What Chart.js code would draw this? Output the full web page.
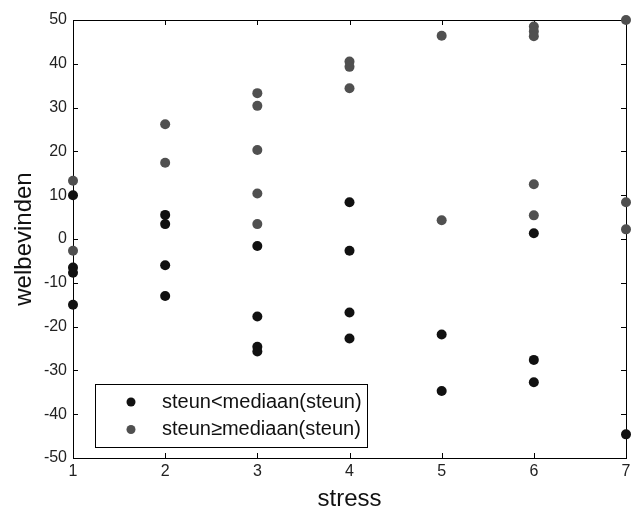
<!DOCTYPE html>
<html>
<head>
<meta charset="utf-8">
<script src="https://cdn.jsdelivr.net/npm/chart.js@4/dist/chart.umd.min.js"></script>
<style>
  body { margin: 0; background: #fff; }
  #wrap { width: 631px; height: 511px; }
</style>
</head>
<body>
<div id="wrap"><canvas id="scatter" width="631" height="511"></canvas></div>
<script>
// Data: stress (x) and welbevinden (y) per group
const lowStress = [1, 1, 1, 1, 2, 2, 2, 2, 3, 3, 3, 3, 4, 4, 4, 4, 5, 5, 6, 6, 6, 7];
const lowWel = [10, -6.5, -7.7, -15, 5.5, 3.4, -6, -13, -1.6, -17.7, -24.6, -25.7, 8.4, -2.7, -16.8, -22.7, -21.8, -34.7, 1.3, -27.6, -32.7, -44.6];
const highStress = [1, 1, 2, 2, 3, 3, 3, 3, 3, 4, 4, 4, 5, 5, 6, 6, 6, 6, 6, 7, 7, 7];
const highWel = [13.3, -2.7, 26.2, 17.4, 33.3, 30.4, 20.3, 10.4, 3.4, 40.5, 39.3, 34.4, 46.4, 4.3, 48.5, 47.4, 46.3, 12.5, 5.4, 50, 8.4, 2.2];

const xTicks = [1, 2, 3, 4, 5, 6, 7];
const yTicks = [-50, -40, -30, -20, -10, 0, 10, 20, 30, 40, 50];

const labelLow = "steun<mediaan(steun)";
const labelHigh = "steun\u2265mediaan(steun)";
const colorLow = "#111111";
const colorHigh = "#505050";

const FONT = "'Liberation Sans', Arial, sans-serif";

function toPoints(xs, ys) {
  return xs.map((x, i) => ({ x: x, y: ys[i] }));
}

// MATLAB style box with inward tick marks
const frameTicks = {
  id: "frameTicks",
  beforeDatasetsDraw(chart) {
    const { ctx, chartArea: a, scales } = chart;
    ctx.save();
    ctx.strokeStyle = "#000";
    ctx.lineWidth = 1;
    ctx.strokeRect(Math.round(a.left) + 0.5, Math.round(a.top) + 0.5, Math.round(a.right - a.left), Math.round(a.bottom - a.top));
    ctx.beginPath();
    const len = 5;
    xTicks.forEach((v) => {
      const px = Math.round(scales.x.getPixelForValue(v)) + 0.5;
      ctx.moveTo(px, a.bottom); ctx.lineTo(px, a.bottom - len);
      ctx.moveTo(px, a.top); ctx.lineTo(px, a.top + len);
    });
    yTicks.forEach((v) => {
      const py = Math.round(scales.y.getPixelForValue(v)) + 0.5;
      ctx.moveTo(a.left, py); ctx.lineTo(a.left + len, py);
      ctx.moveTo(a.right, py); ctx.lineTo(a.right - len, py);
    });
    ctx.stroke();
    ctx.restore();
  }
};

// legend box in the lower left corner of the plot
const legendBox = {
  id: "legendBox",
  afterDatasetsDraw(chart) {
    const { ctx, chartArea: a } = chart;
    const x = Math.round(a.left) + 22;
    const y = Math.round(a.bottom) - 74;
    const w = 272, h = 63;
    ctx.save();
    ctx.fillStyle = "#fff";
    ctx.fillRect(x, y, w, h);
    ctx.strokeStyle = "#000";
    ctx.lineWidth = 1;
    ctx.strokeRect(x + 0.5, y + 0.5, w, h);
    ctx.font = "20px " + FONT;
    ctx.textBaseline = "middle";
    chart.data.datasets.forEach((ds, i) => {
      const ry = y + 18 + i * 27.5;
      ctx.fillStyle = ds.backgroundColor;
      ctx.beginPath();
      ctx.arc(x + 36, ry, 4.5, 0, Math.PI * 2);
      ctx.fill();
      ctx.fillStyle = "#111";
      ctx.fillText(ds.label, x + 67, ry);
    });
    ctx.restore();
  }
};

new Chart(document.getElementById("scatter"), {
  type: "scatter",
  data: {
    datasets: [
      {
        label: labelLow,
        data: toPoints(lowStress, lowWel),
        backgroundColor: colorLow,
        pointRadius: 5,
        pointBorderWidth: 0,
        clip: false
      },
      {
        label: labelHigh,
        data: toPoints(highStress, highWel),
        backgroundColor: colorHigh,
        pointRadius: 5,
        pointBorderWidth: 0,
        clip: false
      }
    ]
  },
  options: {
    responsive: false,
    animation: false,
    events: [],
    layout: { padding: { top: 20, right: 3, left: 0, bottom: 0 } },
    plugins: {
      legend: { display: false },
      tooltip: { enabled: false }
    },
    scales: {
      x: {
        type: "linear",
        min: 1,
        max: 7,
        grid: { display: false, drawTicks: false },
        border: { display: false },
        afterFit: (s) => { s.height = 53; s.paddingLeft = 0; s.paddingRight = 0; },
        afterBuildTicks: (s) => { s.ticks = xTicks.map((v) => ({ value: v })); },
        ticks: { padding: 4, color: "#222", font: { family: FONT, size: 16 } },
        title: {
          display: true,
          text: "stress",
          color: "#111",
          font: { family: FONT, size: 24, lineHeight: 1 },
          padding: { top: 0, bottom: 0 }
        }
      },
      y: {
        type: "linear",
        min: -50,
        max: 50,
        grid: { display: false, drawTicks: false },
        border: { display: false },
        afterFit: (s) => { s.width = 73; s.paddingTop = 0; s.paddingBottom = 0; },
        afterBuildTicks: (s) => { s.ticks = yTicks.map((v) => ({ value: v })); },
        ticks: { padding: 6, color: "#222", font: { family: FONT, size: 16 } },
        title: {
          display: true,
          text: "welbevinden",
          color: "#111",
          font: { family: FONT, size: 24 },
          padding: { top: 10, bottom: 0 }
        }
      }
    }
  },
  plugins: [frameTicks, legendBox]
});
</script>
</body>
</html>
